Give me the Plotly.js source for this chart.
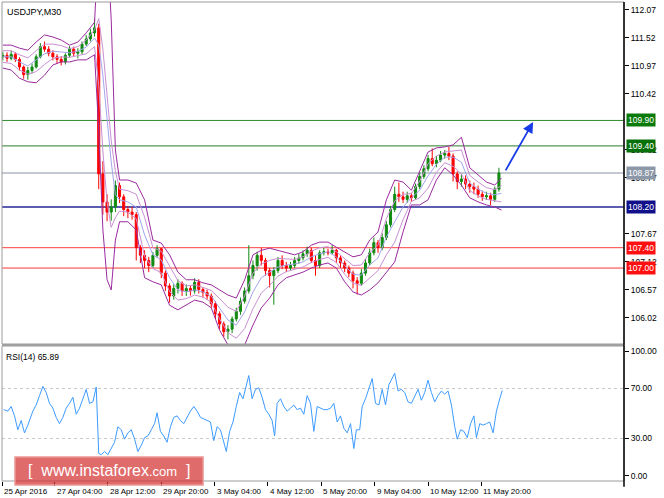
<!DOCTYPE html>
<html><head><meta charset="utf-8">
<script src="https://cdn.plot.ly/plotly-3.0.1.min.js"></script>
<style>html,body{margin:0;padding:0;background:#fff}#chart{width:664px;height:498px}</style>
</head><body><div id="chart"></div>
<script>
// ---- candles (one candle = 5 M30 bars, x in bar units) ----
const candleBar = [0,5,10,15,20,25,30,35,40,45,50,55,60,65,70,75,80,85,90,95,
100,105,110,115,120,125,130,135,140,145,150,155,160,165,170,175,180,185,190,195,
200,205,210,215,220,225,230,235,240,245,250,255,260,265,270,275,280,285,290,295,
300,305,310,315,320,325,330,335,340,345,350,355,360,365,370,375,380,385,390,395,
400,405,410,415,420,425,430,435,440,445,450,455,460,465,470,475,480,485,490,495,
500,505,510,515,520,525,530,535,540,545,550,555,560,565,570,575,580,585,590,595];
const openP = [111.15,111.18,111.12,111.20,111.10,110.95,110.80,110.88,110.95,111.15,
111.35,111.30,111.22,111.15,111.10,111.05,111.18,111.30,111.22,111.25,
111.40,111.50,111.62,111.72,108.85,108.30,108.10,108.20,108.62,108.40,
108.15,108.10,108.05,107.40,107.25,107.15,107.05,107.25,107.38,106.90,
106.65,106.45,106.60,106.70,106.55,106.60,106.55,106.72,106.58,106.52,
106.45,106.30,106.10,105.90,105.75,105.80,106.00,106.15,106.35,106.55,
106.85,107.05,107.25,107.15,106.95,106.85,106.95,107.15,107.05,107.00,
107.05,107.15,107.20,107.28,107.35,107.15,107.05,107.30,107.32,107.30,
107.35,107.20,107.10,107.00,106.90,106.75,106.70,106.90,107.10,107.30,
107.50,107.40,107.60,107.85,108.15,108.45,108.40,108.35,108.42,108.38,
108.60,108.80,108.95,109.15,109.05,109.12,109.22,109.25,109.20,108.85,
108.70,108.75,108.65,108.60,108.55,108.45,108.40,108.42,108.35,108.55];
const highP = [111.25,111.24,111.27,111.24,111.14,110.98,110.95,111.02,111.20,111.42,
111.45,111.36,111.28,111.20,111.16,111.22,111.36,111.35,111.32,111.45,
111.58,111.70,111.90,111.80,109.10,108.45,108.35,108.72,108.68,108.45,
108.22,108.20,108.10,107.45,107.35,107.22,107.32,107.45,107.40,106.95,
106.70,106.68,106.78,106.74,106.68,106.66,106.80,106.78,106.62,106.58,
106.50,106.35,106.15,105.95,105.88,106.05,106.22,106.42,106.62,107.45,
107.15,107.32,107.40,107.20,107.00,107.02,107.22,107.25,107.12,107.12,
107.22,107.28,107.35,107.42,107.40,107.25,107.35,107.40,107.38,107.45,
107.38,107.25,107.15,107.05,106.95,106.82,106.98,107.18,107.38,107.60,
107.55,107.68,107.92,108.22,108.60,108.68,108.50,108.50,108.48,108.66,
108.88,109.02,109.22,109.35,109.20,109.30,109.32,109.38,109.25,108.90,
108.85,108.82,108.72,108.68,108.62,108.52,108.50,108.48,108.60,108.97];
const lowP = [111.08,111.05,111.08,111.05,110.88,110.72,110.70,110.82,110.92,111.12,
111.25,111.16,111.08,111.02,110.98,111.00,111.14,111.15,111.12,111.20,
111.36,111.45,111.55,108.55,108.05,107.92,107.93,108.10,108.28,108.02,
107.98,107.95,107.15,107.10,107.00,106.92,107.00,107.20,106.80,106.55,
106.32,106.38,106.50,106.45,106.45,106.46,106.50,106.50,106.42,106.38,
106.22,106.00,105.80,105.65,105.60,105.72,105.95,106.08,106.30,106.50,
106.78,106.95,107.05,106.85,106.62,106.28,106.90,106.98,106.92,106.95,
107.00,107.08,107.15,107.22,107.10,106.85,107.00,107.25,107.25,107.26,
107.10,107.00,106.92,106.82,106.60,106.48,106.65,106.85,107.05,107.25,
107.30,107.35,107.55,107.80,108.10,108.30,108.28,108.28,108.30,108.34,
108.55,108.75,108.90,109.00,108.98,109.08,109.15,109.12,108.70,108.55,
108.60,108.55,108.48,108.45,108.38,108.32,108.34,108.24,108.30,108.50];
const closeP = [111.18,111.12,111.20,111.10,110.95,110.80,110.88,110.95,111.15,111.35,
111.30,111.22,111.15,111.10,111.05,111.18,111.30,111.22,111.25,111.40,
111.50,111.62,111.72,108.85,108.30,108.10,108.20,108.62,108.40,108.15,
108.10,108.05,107.40,107.25,107.15,107.05,107.25,107.38,106.90,106.65,
106.45,106.60,106.70,106.55,106.60,106.55,106.72,106.58,106.52,106.45,
106.30,106.10,105.90,105.75,105.80,106.00,106.15,106.35,106.55,106.85,
107.05,107.25,107.15,106.95,106.85,106.95,107.15,107.05,107.00,107.05,
107.15,107.20,107.28,107.35,107.15,107.05,107.30,107.32,107.30,107.35,
107.20,107.10,107.00,106.90,106.75,106.70,106.90,107.10,107.30,107.50,
107.40,107.60,107.85,108.15,108.45,108.40,108.35,108.42,108.38,108.60,
108.80,108.95,109.15,109.05,109.12,109.22,109.25,109.20,108.85,108.70,
108.75,108.65,108.60,108.55,108.45,108.40,108.42,108.35,108.55,108.87];

// ---- Bollinger-style envelopes ----
const bandBar = [0,10,20,30,40,50,60,70,80,90,100,110,115,120,125,130,135,
140,150,160,170,180,190,200,210,220,230,240,250,260,270,280,290,300,310,320,330,
340,350,360,370,380,390,400,410,420,430,440,450,460,470,480,490,500,510,520,530,
540,550,560,570,580,590,598];
const bandUpper = [111.38,111.38,111.32,111.28,111.44,111.58,111.54,111.48,111.38,111.44,111.62,111.83,
113.45,114.03,113.45,111.87,109.32,
108.73,108.73,108.67,108.34,107.55,107.49,107.26,106.92,106.77,106.77,
106.71,106.67,106.57,106.47,106.41,106.77,107.26,107.35,107.39,107.35,
107.30,107.26,107.32,107.45,107.51,107.51,107.41,107.32,107.22,107.26,
107.55,107.71,108.34,108.73,108.69,108.53,108.89,109.28,109.36,109.38,
109.42,109.57,108.97,108.83,108.69,108.63,
108.77];
const bandLower = [110.93,110.89,110.73,110.66,110.64,110.79,110.99,111.05,111.05,111.09,111.09,111.19,
109.71,107.75,106.77,106.57,107.55,
107.91,107.91,107.75,106.81,106.73,106.67,106.27,106.18,106.27,106.37,
106.33,106.22,105.78,105.49,105.35,105.49,105.88,106.22,106.41,106.67,
106.81,106.86,106.92,107.00,107.06,107.10,107.00,106.73,106.53,106.47,
106.57,106.71,106.92,107.12,107.71,108.24,108.24,108.34,108.73,108.97,
108.83,108.63,108.38,108.30,108.24,108.20,
108.14];
const bandMiddle = [111.15,111.15,111.05,110.97,111.09,111.21,111.26,111.25,111.23,111.26,111.34,111.52,
111.38,110.79,109.91,109.08,108.44,
108.34,108.30,108.20,107.65,107.26,107.16,106.81,106.57,106.53,106.57,
106.53,106.45,106.22,105.98,105.88,106.14,106.53,106.81,106.92,107.02,
107.06,107.08,107.12,107.22,107.28,107.32,107.22,107.04,106.88,106.86,
107.06,107.20,107.61,107.91,108.20,108.38,108.53,108.81,109.04,109.18,
109.18,109.08,108.67,108.55,108.47,108.44,
108.47];
const innerUpper = [111.27,111.27,111.19,111.13,111.27,111.40,111.40,111.37,111.31,111.35,111.48,111.68,
111.90,111.30,110.40,109.50,108.90,
108.55,108.52,108.45,108.00,107.40,107.33,107.03,106.75,106.65,106.67,
106.62,106.56,106.40,106.23,106.15,106.45,106.90,107.08,107.15,107.19,
107.18,107.17,107.22,107.33,107.40,107.42,107.32,107.18,107.05,107.06,
107.30,107.45,107.97,108.32,108.45,108.46,108.71,109.05,109.20,109.28,
109.30,109.32,108.82,108.69,108.58,108.54,
108.62];
const innerLower = [111.04,111.02,110.89,110.81,110.86,111.00,111.12,111.15,111.14,111.17,111.21,111.35,
110.60,109.30,108.30,107.80,107.99,
108.12,108.10,107.97,107.23,106.99,106.91,106.54,106.37,106.40,106.47,
106.43,106.33,106.00,105.73,105.62,105.81,106.20,106.51,106.66,106.84,
106.93,106.97,107.02,107.11,107.17,107.21,107.11,106.88,106.70,106.66,
106.81,106.95,107.26,107.51,107.95,108.31,108.38,108.57,108.88,109.07,
109.00,108.85,108.52,108.42,108.35,108.32,
108.30];

// ---- RSI(14) ----
const rsiBar = [1,6,10,14,18,22,26,30,36,40,
44,48,52,56,60,64,68,72,76,80,
84,88,92,96,100,104,108,112,115,118,
122,126,130,134,138,142,146,150,154,158,
162,166,170,174,178,182,185,189,193,197,
201,205,209,213,217,221,225,229,233,237,
241,245,249,253,257,261,265,268,272,276,
280,284,288,292,295,299,303,307,311,315,
319,323,326,329,333,337,341,345,349,353,
357,361,365,369,373,377,381,385,389,393,
397,401,405,409,413,417,421,424,428,431,
435,439,443,447,451,455,459,463,467,470,
474,478,482,486,490,494,498,502,506,510,
514,518,522,526,530,534,538,542,545,549,
553,557,561,565,568,572,576,580,584,588,
592,596,599];
const rsiVal = [53.1,51.9,55.6,48.1,37.0,44.4,34.5,40.7,51.9,56.8,
64.3,71.7,66.8,58.1,54.3,46.9,41.9,46.9,54.3,58.1,
63.0,49.4,54.3,61.8,69.3,58.1,59.3,71.2,18.0,17.1,
19.6,17.1,22.0,27.0,39.4,37.0,29.5,34.5,37.0,29.5,
19.6,24.5,30.7,32.0,37.0,41.9,50.6,35.7,32.0,27.0,
39.4,46.9,48.1,44.4,41.9,46.9,51.9,55.6,51.9,46.9,
45.7,44.4,43.2,28.3,39.4,37.0,27.0,19.6,35.7,43.2,
55.6,66.8,61.8,71.7,80.4,61.8,69.3,70.5,63.0,53.1,
49.4,44.4,32.0,58.1,61.8,55.6,51.9,54.3,56.8,53.1,
54.3,49.4,64.3,58.1,35.7,55.6,54.3,53.1,53.1,54.3,
58.1,43.2,48.1,38.2,34.5,41.9,22.0,37.0,37.0,55.6,
61.8,69.3,78.0,58.1,56.8,69.3,56.8,73.0,78.0,82.2,
68.0,69.3,66.8,59.3,58.1,64.3,69.3,60.6,66.8,76.7,
66.8,59.3,64.3,68.0,65.5,68.0,56.8,39.4,29.5,37.0,
35.7,30.7,41.9,48.1,30.7,41.9,40.7,41.9,43.2,34.5,
51.9,61.8,68.5];
const rsiLevels = [70, 30];

// ---- axes / labels ----
const priceTicks = [112.07,111.52,110.97,110.42,109.32,108.77,107.67,107.12,106.57,106.02];
const rsiTicks = [0,30,70,100];
const timeTickBar = [-0.9,62,126,190,254,318,382,446,510,574];
const timeTickText = ['25 Apr 2016','27 Apr 04:00','28 Apr 12:00','29 Apr 20:00','3 May 04:00','4 May 12:00','5 May 20:00','9 May 04:00','10 May 12:00','11 May 20:00'];
const levelPrices = [109.90,109.40,108.87,108.20,107.40,107.00];
const levelLineColors = ['#2e8b2e','#2a7a2a','#c4c8d0','#5c5cb0','#ff4040','#ff3535'];
const levelLineWidths = [1,1,2,2,1,1];
const levelBoxColors = ['#0a7a0a','#087008','#8c98a8','#10108a','#ff1010','#ff1010'];
const arrowTail = [602, 108.89];
const arrowTip = [636, 109.87];
const symbolTitle = 'USDJPY,M30';
const rsiTitle = 'RSI(14) 65.89';

const FONT = 'Liberation Sans, Arial, sans-serif';
const mainDom = [0.2860, 1];
const rsiDom = [0, 0.2818];

const traces = [
  {type:'scatter', mode:'lines', x:bandBar, y:innerUpper, xaxis:'x', yaxis:'y', line:{color:'#c88fd2', width:1}, hoverinfo:'skip'},
  {type:'scatter', mode:'lines', x:bandBar, y:innerLower, xaxis:'x', yaxis:'y', line:{color:'#c88fd2', width:1}, hoverinfo:'skip'},
  {type:'scatter', mode:'lines', x:bandBar, y:bandMiddle, xaxis:'x', yaxis:'y', line:{color:'#a4a4ee', width:1}, hoverinfo:'skip'},
  {type:'scatter', mode:'lines', x:bandBar, y:bandUpper, xaxis:'x', yaxis:'y', line:{color:'#9a2a9e', width:1}, hoverinfo:'skip'},
  {type:'scatter', mode:'lines', x:bandBar, y:bandLower, xaxis:'x', yaxis:'y', line:{color:'#9a2a9e', width:1}, hoverinfo:'skip'},
  {type:'candlestick', x:candleBar, open:openP, high:highP, low:lowP, close:closeP, xaxis:'x', yaxis:'y',
   increasing:{line:{color:'#118a11', width:1}, fillcolor:'#118a11'},
   decreasing:{line:{color:'#ff0000', width:1}, fillcolor:'#ff0000'},
   whiskerwidth:0, hoverinfo:'skip'},
  {type:'scatter', mode:'lines', x:rsiBar, y:rsiVal, xaxis:'x', yaxis:'y2', line:{color:'#3d9bff', width:1}, hoverinfo:'skip'}
];

const shapes = [];
shapes.push({type:'rect', xref:'paper', yref:'paper', x0:0, x1:1, y0:mainDom[0], y1:mainDom[1], line:{color:'#9a9a9a', width:1}, layer:'above'});
shapes.push({type:'rect', xref:'paper', yref:'paper', x0:0, x1:1, y0:rsiDom[0], y1:rsiDom[1], line:{color:'#9a9a9a', width:1}, layer:'above'});
shapes.push({type:'rect', xref:'paper', yref:'paper', x0:0, x1:1, y0:rsiDom[1], y1:mainDom[0], fillcolor:'#a0a0a0', line:{width:0}, layer:'above'});
shapes.push({type:'line', xref:'paper', yref:'paper', x0:1, x1:1, y0:-0.012, y1:1, line:{color:'#000', width:1.5}, layer:'above'});
levelPrices.forEach((p,i)=>{
  shapes.push({type:'line', xref:'paper', yref:'y', x0:0, x1:1, y0:p, y1:p, line:{color:levelLineColors[i], width:levelLineWidths[i]}, layer:'below'});
});
rsiLevels.forEach(v=>{
  shapes.push({type:'line', xref:'paper', yref:'y2', x0:0, x1:1, y0:v, y1:v, line:{color:'#c8c8c8', width:1, dash:'dot'}, layer:'below'});
});
shapes.push({type:'rect', xref:'paper', yref:'paper', x0:0.0209, x1:0.3232, y0:-0.0084, y1:0.0501,
  fillcolor:'rgba(212,50,50,0.72)', line:{color:'rgba(235,150,150,1)', width:1.5}, layer:'above'});

const annotations = [];
annotations.push({xref:'paper', yref:'paper', x:0.005, y:0.994, xanchor:'left', yanchor:'top', showarrow:false,
  text:symbolTitle, font:{family:FONT, size:9, color:'#000'}});
annotations.push({xref:'paper', yref:'paper', x:0.003, y:0.2735, xanchor:'left', yanchor:'top', showarrow:false,
  text:rsiTitle, font:{family:FONT, size:8.5, color:'#000'}});
levelPrices.forEach((p,i)=>{
  annotations.push({xref:'paper', yref:'y', x:1, y:p, xanchor:'left', yanchor:'middle', xshift:2, showarrow:false,
    text:p.toFixed(2), bgcolor:levelBoxColors[i], borderpad:1, font:{family:FONT, size:8.5, color:'#fff'}});
});
timeTickBar.forEach((b,i)=>{
  annotations.push({xref:'x', yref:'paper', x:b, y:-0.008, xanchor:'left', yanchor:'top', xshift:0, showarrow:false,
    text:timeTickText[i], font:{family:FONT, size:8, color:'#000'}});
});
annotations.push({xref:'x', yref:'y', axref:'x', ayref:'y', x:arrowTip[0], y:arrowTip[1], ax:arrowTail[0], ay:arrowTail[1],
  showarrow:true, text:'', arrowhead:2, arrowsize:1.2, arrowwidth:1.8, arrowcolor:'#1a3ce8'});
annotations.push({xref:'paper', yref:'paper', x:0.172, y:0.021, xanchor:'center', yanchor:'middle', showarrow:false,
  text:'[ &nbsp;www.instaforex<span style="font-size:13px">.com</span>&nbsp; ]', font:{family:FONT, size:16, color:'#fff'}});

const layout = {
  width:664, height:498,
  margin:{l:2, r:40, t:2, b:17, pad:0},
  paper_bgcolor:'#fff', plot_bgcolor:'#fff',
  showlegend:false,
  font:{family:FONT, size:8.5, color:'#000'},
  xaxis:{range:[-1,745], anchor:'y2', showgrid:false, zeroline:false, showline:false,
    tickmode:'array', tickvals:timeTickBar, showticklabels:false,
    ticks:'outside', ticklen:4, tickcolor:'#000', tickwidth:1,
    rangeslider:{visible:false}, fixedrange:true},
  yaxis:{domain:mainDom, range:[105.508,112.227], side:'right', anchor:'x', showgrid:false, zeroline:false, showline:false,
    tickmode:'array', tickvals:priceTicks, ticktext:priceTicks.map(v=>v.toFixed(2)),
    ticks:'outside', ticklen:4, tickcolor:'#000', tickfont:{family:FONT, size:8.5, color:'#000'}, fixedrange:true},
  yaxis2:{domain:rsiDom, range:[-4,104], side:'right', anchor:'x', showgrid:false, zeroline:false, showline:false,
    tickmode:'array', tickvals:rsiTicks, ticktext:rsiTicks.map(v=>v.toFixed(2)),
    ticks:'outside', ticklen:4, tickcolor:'#000', tickfont:{family:FONT, size:8.5, color:'#000'}, fixedrange:true},
  shapes:shapes,
  annotations:annotations
};

Plotly.newPlot('chart', traces, layout, {staticPlot:true, displayModeBar:false});
</script>
</body></html>
